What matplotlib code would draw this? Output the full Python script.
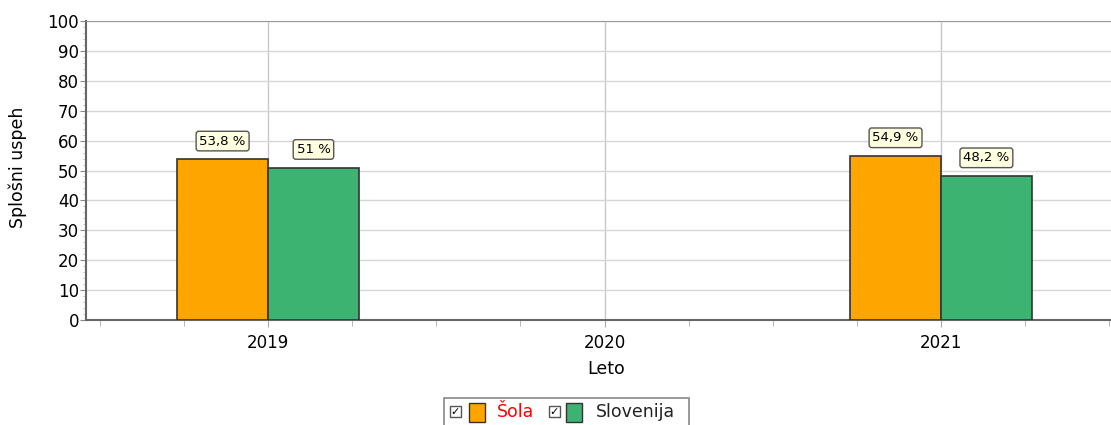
import numpy as np
import matplotlib
matplotlib.use("Agg")
import matplotlib.pyplot as plt
from matplotlib.patches import Rectangle
from matplotlib.ticker import MultipleLocator

years = ["2019", "2020", "2021"]
sola = [53.8, np.nan, 54.9]
slovenija = [51.0, np.nan, 48.2]
series_names = ["Šola", "Slovenija"]
series_colors = ["#FFA500", "#3CB371"]


def fmt_pct(v):
    s = f"{v:.1f}".rstrip("0").rstrip(".")
    return s.replace(".", ",") + " %"


plt.rcParams["font.family"] = "DejaVu Sans"
fig = plt.figure(figsize=(11.11, 4.25), dpi=100)
W, H = 1111, 425
ax = fig.add_axes([86 / W, 105 / H, 1037 / W, 299 / H])

x = np.arange(len(years))
w = 0.27
for vals, off, col in [(sola, -w / 2, series_colors[0]), (slovenija, w / 2, series_colors[1])]:
    ax.bar(x + off, vals, width=w, color=col, edgecolor="#333333", linewidth=1.2, zorder=3)
    for xi, v in zip(x + off, vals):
        if np.isnan(v):
            continue
        ax.annotate(fmt_pct(v), (xi, v), xytext=(0, 13), textcoords="offset points",
                    ha="center", va="center", fontsize=9.5, zorder=5,
                    bbox=dict(boxstyle="round,pad=0.25,rounding_size=0.2",
                              fc="#FFFFE0", ec="#555555", lw=1))

ax.set_xlim(-0.541, 2.541)
ax.set_ylim(0, 100)
ax.set_xticks(x)
ax.set_xticklabels(years, fontsize=12)
ax.xaxis.set_minor_locator(MultipleLocator(0.25))
ax.yaxis.set_major_locator(MultipleLocator(10))
ax.yaxis.set_minor_locator(MultipleLocator(2))
ax.tick_params(axis="y", which="major", labelsize=12, length=4, color="#888888", pad=1)
ax.tick_params(axis="y", which="minor", length=2, color="#bbbbbb")
ax.tick_params(axis="x", which="major", length=5, color="#aaaaaa", pad=5)
ax.tick_params(axis="x", which="minor", length=4, color="#aaaaaa")
ax.grid(True, axis="y", which="major", color="#d6d6d6", lw=1, zorder=0)
ax.grid(True, axis="x", which="major", color="#c8c8c8", lw=1, zorder=0)

for side in ["left", "bottom"]:
    ax.spines[side].set_color("#666666")
    ax.spines[side].set_linewidth(1.5)
ax.spines["top"].set_color("#999999")
ax.spines["right"].set_visible(False)

ax.set_xlabel("Leto", fontsize=12.5, va="center")
ax.xaxis.set_label_coords((606 - 86) / 1037, (320 - 369) / 299)
ax.set_ylabel("Splošni uspeh", fontsize=12.5, va="center")
ax.yaxis.set_label_coords((18 - 86) / 1037, 0.5 + (170 - 167) / 299)


# legend box at bottom
def px(xp, yp):
    return xp / W, 1 - yp / H


fig.patches.append(Rectangle(px(444, 440), 245 / W, 42 / H, transform=fig.transFigure,
                             fc="white", ec="#888888", lw=1.2))
items = [(450, 469, 497, series_names[0], series_colors[0], "red"),
         (549, 566, 596, series_names[1], series_colors[1], "#222222")]
for cb, sw, tx, name, col, tcol in items:
    fig.patches.append(Rectangle(px(cb, 417), 11 / W, 11 / H, transform=fig.transFigure,
                                 fc="white", ec="#555555", lw=1))
    fig.text(*px(cb + 5.5, 411.5), "✓", fontsize=8, ha="center", va="center", fontweight="bold")
    fig.patches.append(Rectangle(px(sw, 422), 16 / W, 19 / H, transform=fig.transFigure,
                                 fc=col, ec="#333333", lw=1))
    fig.text(*px(tx, 412), name, fontsize=12.5, color=tcol, ha="left", va="center")

fig.savefig("out.png", dpi=100)
